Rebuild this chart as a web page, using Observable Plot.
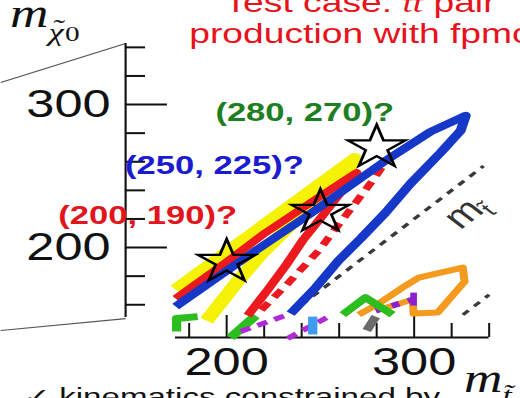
<!DOCTYPE html>
<html>
<head>
<meta charset="utf-8">
<script src="https://cdn.jsdelivr.net/npm/d3@7"></script>
<script src="https://cdn.jsdelivr.net/npm/@observablehq/plot@0.6"></script>
<style>
  html, body { margin: 0; padding: 0; background: #fff; overflow: hidden; }
  #chart svg { display: block; }
</style>
</head>
<body>
<div id="chart"></div>
<script>
// ---- axis ticks (GeV) ----
const xTicks = [180, 200, 220, 240, 260, 280, 300, 320, 340];
const yTicks = [160, 180, 200, 220, 240, 260, 280, 300, 320, 340];
const xTickLabels = [200, 300];
const yTickLabels = [200, 300];

// ---- benchmark points (m_stop, m_neutralino) ----
const benchStop = [200, 250, 280];
const benchNeut = [190, 225, 270];
const benchColors = ["#e3151c", "#1b1bd0", "#1e7e22"];

// ---- contours, as [m_stop, m_neutralino] pairs ----
const yellowContour = [[189.3, 148.9], [205.3, 175.5], [219.2, 196.5], [267.2, 258.7], [268.3, 262.2], [234.1, 229.4], [172.8, 170.6]];
const redContour = [[172.8, 164.3], [199.5, 189.5], [220.8, 210.5], [244.8, 231.5], [266.1, 249.7], [269.3, 252.4], [260.8, 238.5], [251.2, 222.4], [240.5, 204.9], [231.5, 187.4], [220.8, 168.5], [211.2, 152.4]];
const redDashed = [[282.7, 255.9], [277.9, 246.9], [263.5, 222.4], [249.1, 197.9], [233.1, 175.5], [217.1, 154.5]];
const blueContour = [[172.8, 158.7], [199.5, 183.2], [215.5, 197.9], [244.8, 223.8], [284.8, 260.8], [308.8, 281.1], [327.5, 292.3], [324.8, 281.8], [314.1, 266.4], [298.1, 244.8], [284.8, 224.5], [271.5, 206.3], [259.7, 190.9], [247.5, 172.0], [234.1, 153.8]];
const orangeContour = [[270.4, 153.1], [281.1, 160.8], [295.5, 173.4], [302.4, 179.0], [325.9, 186.0], [326.9, 176.2], [312.5, 154.5], [299.7, 153.8], [299.2, 164.3]];
const orangeDashed = [[279.5, 155.9], [299.2, 163.6]];
const purpleTick = [[299.7, 168.5], [299.7, 159.4]];
const greenPeak = [[261.9, 153.1], [274.1, 165.0], [288.5, 153.1]];
const greenLeft = [[173.3, 141.3], [173.3, 150.4], [184.5, 151.7]];
const greenDiag = [[202.1, 137.1], [215.5, 152.4]];
const purpleA = [[207.5, 141.3], [232.5, 153.1]];
const purpleB = [[232.5, 136.4], [254.4, 151.7]];
const skyBar = [[245.9, 151.7], [245.9, 139.2]];
const grayBar = [[274.7, 142.0], [279.5, 151.7]];

// kinematic edges  m_neutralino = m_stop - const
const edgeLow = [[240, 160], [337, 257]];
const edgeTop = [[326, 153], [340, 167]];

// zoom callout lines from the full-range panel on the left
const calloutTop = [[79.5, 315.4], [146.1, 342.7]];
const calloutBottom = [[79.5, 142.0], [146.1, 150.3]];

// ---- layout ----
const W = 520, H = 398;
const S = 1.33;               // the slide is widened horizontally
const innerW = W / S;
const xDomain = [172.8, 340];
const yDomain = [137.1, 342.7];
const yAxisAt = 146.1, yAxisFrom = 151.0;
const yMinorEnd = 156.8, yMajorEnd = 168.5, yLabelAt = 138.1;
const xMinorTop = 146.9, xMajorTop = 152.5;
const mtLabelAt = [327.5, 225.2];
const sans = "Liberation Sans, Arial, Helvetica, sans-serif";
const serif = "Liberation Serif, Times New Roman, serif";

const path = (pts, o) => Plot.line(pts, {x: d => d[0], y: d => d[1], strokeLinejoin: "round", strokeLinecap: "butt", ...o});

const stars = benchStop.map((x, i) => ({x, y: benchNeut[i], label: `(${x}, ${benchNeut[i]})?`, color: benchColors[i]}));
const labelOffsets = [[-59.4, -46], [-79.7, -46], [-54.1, -35]];

const plot = Plot.plot({
  width: innerW,
  height: H,
  marginLeft: 175 / S,
  marginRight: innerW - 488.5 / S,
  marginTop: 43,
  marginBottom: 61,
  x: {domain: xDomain, axis: null},
  y: {domain: yDomain, axis: null},
  style: {background: "#fff", fontFamily: sans, overflow: "visible"},
  marks: [
    // callout
    path(calloutTop, {stroke: "#555", strokeWidth: 1.1}),
    path(calloutBottom, {stroke: "#555", strokeWidth: 1.1}),

    // y axis
    Plot.ruleX([yAxisAt], {y1: yAxisFrom, y2: yDomain[1], stroke: "#111", strokeWidth: 1.6}),
    Plot.ruleY(yTicks, {x1: yAxisAt, x2: d => yTickLabels.includes(d) ? yMajorEnd : yMinorEnd, stroke: "#111", strokeWidth: 2}),
    Plot.text(yTickLabels, {x: yLabelAt, y: d => d, text: d => String(d), textAnchor: "end", lineAnchor: "middle", fontSize: 38, fontFamily: sans, fill: "#111"}),

    // x axis
    Plot.ruleY([yDomain[0]], {x1: xDomain[0], x2: xDomain[1], stroke: "#111", strokeWidth: 2}),
    Plot.ruleX(xTicks, {y1: yDomain[0], y2: d => xTickLabels.includes(d) ? xMajorTop : xMinorTop, stroke: "#111", strokeWidth: 1.5}),
    Plot.text(xTickLabels, {x: d => d, y: yDomain[0], dy: 11, text: d => String(d), lineAnchor: "top", fontSize: 38, fontFamily: sans, fill: "#111"}),

    // low-lying contour fragments
    path(orangeContour, {stroke: "#f39a1f", strokeWidth: 6}),
    path(orangeDashed, {stroke: "#f39a1f", strokeWidth: 5.5}),
    path(orangeDashed, {stroke: "#8e1fd0", strokeWidth: 5.5, strokeDasharray: "6 7"}),
    path(purpleTick, {stroke: "#8e1fd0", strokeWidth: 5}),
    path(greenPeak, {stroke: "#2cbd1f", strokeWidth: 7}),
    path(grayBar, {stroke: "#6b6b6b", strokeWidth: 7}),
    path(greenLeft, {stroke: "#2cbd1f", strokeWidth: 7}),
    path(greenDiag, {stroke: "#2cbd1f", strokeWidth: 8}),
    path(purpleA, {stroke: "#b02ad8", strokeWidth: 5, strokeDasharray: "8 6"}),
    path(purpleB, {stroke: "#b02ad8", strokeWidth: 5, strokeDasharray: "8 6"}),
    path(skyBar, {stroke: "#3d9cf0", strokeWidth: 7}),

    // main contours
    path(yellowContour, {stroke: "#f6f206", strokeWidth: 11}),
    path(redContour, {stroke: "#ec1a1f", strokeWidth: 7}),
    path(redDashed, {stroke: "#ec1a1f", strokeWidth: 6, strokeDasharray: "9 7"}),
    path(edgeLow, {stroke: "#3a3a3a", strokeWidth: 3, strokeDasharray: "6 6"}),
    path(edgeTop, {stroke: "#3a3a3a", strokeWidth: 3, strokeDasharray: "6 6"}),
    path(blueContour, {stroke: "#1638c8", strokeWidth: 7.5}),

    // benchmark stars and their labels
    Plot.dot(stars, {x: "x", y: "y", symbol: "star", r: 13.6, stroke: "#000", strokeWidth: 2.2, fill: "none"}),
    ...stars.map((s, i) => Plot.text([s], {
      x: "x", y: "y", text: "label", fill: s.color, dx: labelOffsets[i][0], dy: labelOffsets[i][1],
      fontSize: 26, fontWeight: "bold", fontFamily: sans, lineAnchor: "middle"
    }))
  ]
});

document.getElementById("chart").appendChild(plot);

const svg = d3.select(plot)
  .attr("width", W).attr("height", H)
  .attr("viewBox", `0 0 ${innerW} ${H}`)
  .attr("preserveAspectRatio", "none")
  .style("width", W + "px").style("height", H + "px").style("max-width", "none");

// slide title
const title = svg.append("text")
  .attr("font-family", sans).attr("font-size", 28).attr("fill", "#e8121c").attr("text-anchor", "middle");
title.append("tspan").attr("x", 360 / S).attr("y", 12).text("Test case: ");
title.append("tspan").attr("font-family", serif).attr("font-style", "italic").text("t\u0303t\u0303");
title.append("tspan").text(" pair");
title.append("tspan").attr("x", 360 / S).attr("y", 43).text("production with fpmc");

// y axis title: m with neutralino subscript (tilde set over the chi)
const yTitle = svg.append("text")
  .attr("x", 10 / S).attr("y", 27).attr("text-anchor", "start")
  .attr("font-family", serif).attr("font-style", "italic").attr("font-size", 40).attr("fill", "#111");
yTitle.append("tspan").text("m");
yTitle.append("tspan").attr("font-size", 26).attr("dy", 14).text("\u03C7");
yTitle.append("tspan").attr("font-size", 26).attr("font-style", "normal").attr("dx", -7.6).attr("dy", -4).text("\u02DC");
yTitle.append("tspan").attr("font-size", 22).attr("font-style", "normal").attr("dy", 4).text("0");

// x axis title
const xTitle = svg.append("text")
  .attr("x", 464 / S).attr("y", 392).attr("text-anchor", "start")
  .attr("font-family", serif).attr("font-style", "italic").attr("font-size", 40).attr("fill", "#111");
xTitle.append("tspan").text("m");
xTitle.append("tspan").attr("font-size", 25).attr("dy", 12).text("t\u0303");

// label along the kinematic edge
const xs = plot.scale("x"), ys = plot.scale("y");
const g = svg.append("g")
  .attr("transform", `translate(${xs.apply(mtLabelAt[0])},${ys.apply(mtLabelAt[1])}) rotate(-44.7)`);
const mt = g.append("text")
  .attr("text-anchor", "middle").attr("dy", "0.35em")
  .attr("font-family", sans).attr("font-size", 32).attr("fill", "#333");
mt.append("tspan").text("m");
mt.append("tspan").attr("font-size", 20).attr("dy", 7).text("t\u0303");

// caption line below the panel
svg.append("text")
  .attr("x", 23 / S).attr("y", 405).attr("text-anchor", "start")
  .attr("font-family", sans).attr("font-size", 24).attr("fill", "#111")
  .attr("textLength", (440 - 23) / S).attr("lengthAdjust", "spacingAndGlyphs")
  .text("\u2713 kinematics constrained by");
</script>
</body>
</html>
